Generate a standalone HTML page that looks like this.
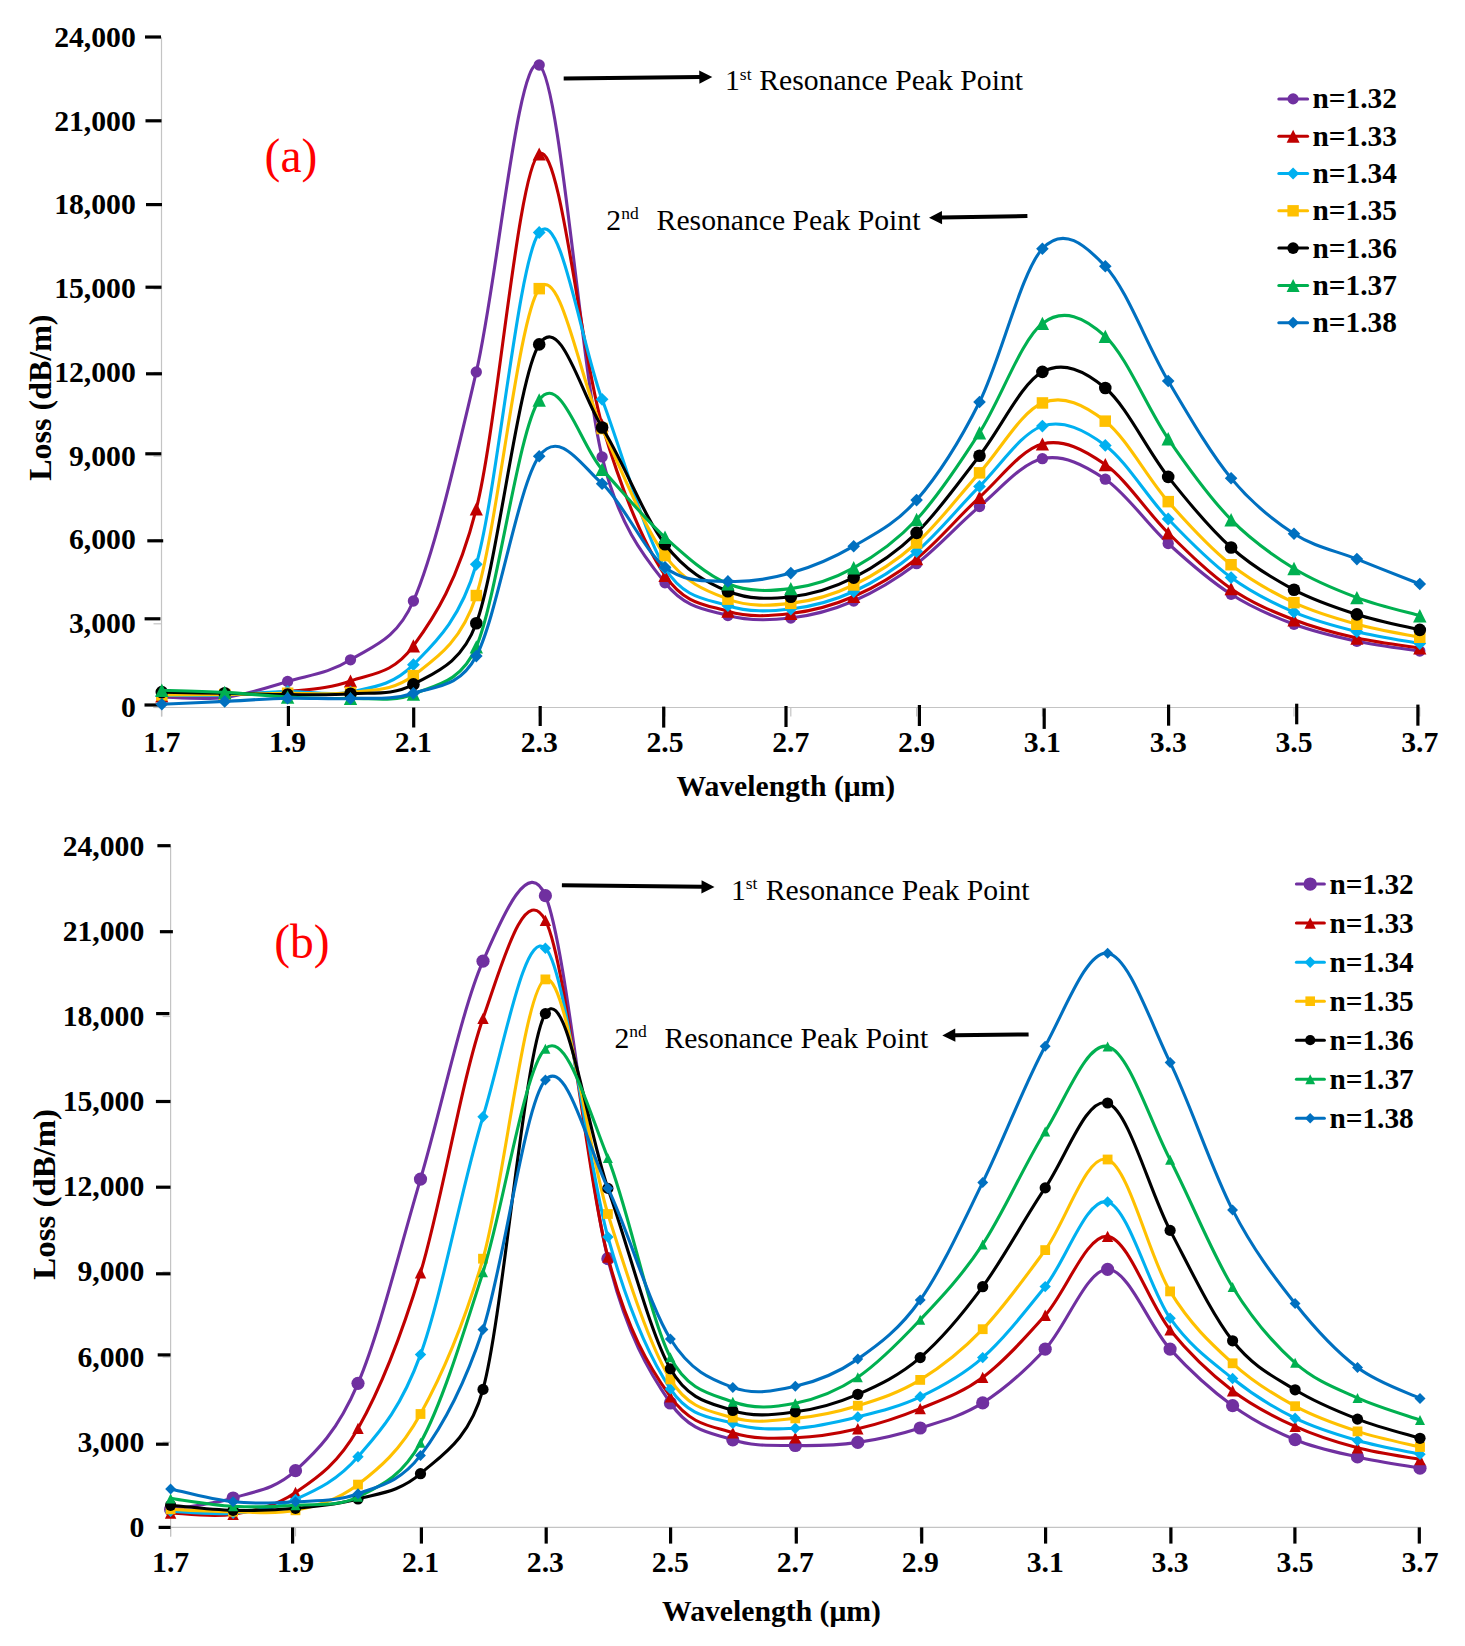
<!DOCTYPE html>
<html lang="en">
<head>
<meta charset="utf-8">
<title>Loss vs Wavelength</title>
<style>
html,body{margin:0;padding:0;background:#fff;}
body{width:1465px;height:1646px;overflow:hidden;}
svg{display:block;font-family:"Liberation Serif","Times New Roman",serif;}
</style>
</head>
<body>
<svg width="1465" height="1646" viewBox="0 0 1465 1646">
<rect width="1465" height="1646" fill="#fff"/>
<line x1="161.5" y1="37.5" x2="161.5" y2="716.5" stroke="#c4c4c4" stroke-width="1.2"/>
<line x1="153.5" y1="707.5" x2="1420.0" y2="707.5" stroke="#c4c4c4" stroke-width="1.2"/>
<line x1="153.5" y1="707.5" x2="161.5" y2="707.5" stroke="#c4c4c4" stroke-width="1.2"/>
<line x1="153.5" y1="623.8" x2="161.5" y2="623.8" stroke="#c4c4c4" stroke-width="1.2"/>
<line x1="153.5" y1="540.0" x2="161.5" y2="540.0" stroke="#c4c4c4" stroke-width="1.2"/>
<line x1="153.5" y1="456.2" x2="161.5" y2="456.2" stroke="#c4c4c4" stroke-width="1.2"/>
<line x1="153.5" y1="372.5" x2="161.5" y2="372.5" stroke="#c4c4c4" stroke-width="1.2"/>
<line x1="153.5" y1="288.8" x2="161.5" y2="288.8" stroke="#c4c4c4" stroke-width="1.2"/>
<line x1="153.5" y1="205.0" x2="161.5" y2="205.0" stroke="#c4c4c4" stroke-width="1.2"/>
<line x1="153.5" y1="121.2" x2="161.5" y2="121.2" stroke="#c4c4c4" stroke-width="1.2"/>
<line x1="153.5" y1="37.5" x2="161.5" y2="37.5" stroke="#c4c4c4" stroke-width="1.2"/>
<line x1="161.8" y1="707.5" x2="161.8" y2="716.5" stroke="#c4c4c4" stroke-width="1.2"/>
<line x1="287.6" y1="707.5" x2="287.6" y2="716.5" stroke="#c4c4c4" stroke-width="1.2"/>
<line x1="413.4" y1="707.5" x2="413.4" y2="716.5" stroke="#c4c4c4" stroke-width="1.2"/>
<line x1="539.2" y1="707.5" x2="539.2" y2="716.5" stroke="#c4c4c4" stroke-width="1.2"/>
<line x1="665.0" y1="707.5" x2="665.0" y2="716.5" stroke="#c4c4c4" stroke-width="1.2"/>
<line x1="790.8" y1="707.5" x2="790.8" y2="716.5" stroke="#c4c4c4" stroke-width="1.2"/>
<line x1="916.6" y1="707.5" x2="916.6" y2="716.5" stroke="#c4c4c4" stroke-width="1.2"/>
<line x1="1042.4" y1="707.5" x2="1042.4" y2="716.5" stroke="#c4c4c4" stroke-width="1.2"/>
<line x1="1168.2" y1="707.5" x2="1168.2" y2="716.5" stroke="#c4c4c4" stroke-width="1.2"/>
<line x1="1294.0" y1="707.5" x2="1294.0" y2="716.5" stroke="#c4c4c4" stroke-width="1.2"/>
<line x1="1419.8" y1="707.5" x2="1419.8" y2="716.5" stroke="#c4c4c4" stroke-width="1.2"/>
<line x1="145.0" y1="37.0" x2="161.0" y2="37.0" stroke="#000" stroke-width="3.2"/>
<line x1="145.5" y1="120.8" x2="161.5" y2="120.8" stroke="#000" stroke-width="3.2"/>
<line x1="146.0" y1="204.6" x2="162.0" y2="204.6" stroke="#000" stroke-width="3.2"/>
<line x1="145.5" y1="287.2" x2="161.5" y2="287.2" stroke="#000" stroke-width="3.2"/>
<line x1="146.0" y1="373.8" x2="162.0" y2="373.8" stroke="#000" stroke-width="3.2"/>
<line x1="145.3" y1="453.8" x2="161.3" y2="453.8" stroke="#000" stroke-width="3.2"/>
<line x1="147.3" y1="540.8" x2="163.2" y2="540.8" stroke="#000" stroke-width="3.2"/>
<line x1="144.6" y1="618.8" x2="160.4" y2="618.8" stroke="#000" stroke-width="3.2"/>
<line x1="144.5" y1="705.0" x2="160.0" y2="705.0" stroke="#000" stroke-width="3.2"/>
<line x1="288.4" y1="706.0" x2="288.4" y2="726.0" stroke="#000" stroke-width="3.2"/>
<line x1="413.7" y1="707.5" x2="413.7" y2="727.5" stroke="#000" stroke-width="3.2"/>
<line x1="540.2" y1="706.0" x2="540.2" y2="726.0" stroke="#000" stroke-width="3.2"/>
<line x1="663.7" y1="706.6" x2="663.7" y2="727.6" stroke="#000" stroke-width="3.2"/>
<line x1="786.0" y1="706.0" x2="786.0" y2="727.0" stroke="#000" stroke-width="3.2"/>
<line x1="919.4" y1="705.0" x2="919.4" y2="726.0" stroke="#000" stroke-width="3.2"/>
<line x1="1044.2" y1="708.3" x2="1044.2" y2="728.9" stroke="#000" stroke-width="3.2"/>
<line x1="1168.6" y1="704.6" x2="1168.6" y2="725.7" stroke="#000" stroke-width="3.2"/>
<line x1="1296.7" y1="703.7" x2="1296.7" y2="724.3" stroke="#000" stroke-width="3.2"/>
<line x1="1417.9" y1="704.6" x2="1417.9" y2="725.7" stroke="#000" stroke-width="3.2"/>
<text x="135.8" y="716.8" font-size="29.70" font-weight="bold" text-anchor="end" fill="#000">0</text>
<text x="135.8" y="633.0" font-size="29.70" font-weight="bold" text-anchor="end" fill="#000">3,000</text>
<text x="135.8" y="549.3" font-size="29.70" font-weight="bold" text-anchor="end" fill="#000">6,000</text>
<text x="135.8" y="465.6" font-size="29.70" font-weight="bold" text-anchor="end" fill="#000">9,000</text>
<text x="135.8" y="381.8" font-size="29.70" font-weight="bold" text-anchor="end" fill="#000">12,000</text>
<text x="135.8" y="298.1" font-size="29.70" font-weight="bold" text-anchor="end" fill="#000">15,000</text>
<text x="135.8" y="214.3" font-size="29.70" font-weight="bold" text-anchor="end" fill="#000">18,000</text>
<text x="135.8" y="130.6" font-size="29.70" font-weight="bold" text-anchor="end" fill="#000">21,000</text>
<text x="135.8" y="46.8" font-size="29.70" font-weight="bold" text-anchor="end" fill="#000">24,000</text>
<text x="161.8" y="751.6" font-size="29.70" font-weight="bold" text-anchor="middle" fill="#000">1.7</text>
<text x="287.6" y="751.6" font-size="29.70" font-weight="bold" text-anchor="middle" fill="#000">1.9</text>
<text x="413.4" y="751.6" font-size="29.70" font-weight="bold" text-anchor="middle" fill="#000">2.1</text>
<text x="539.2" y="751.6" font-size="29.70" font-weight="bold" text-anchor="middle" fill="#000">2.3</text>
<text x="665.0" y="751.6" font-size="29.70" font-weight="bold" text-anchor="middle" fill="#000">2.5</text>
<text x="790.8" y="751.6" font-size="29.70" font-weight="bold" text-anchor="middle" fill="#000">2.7</text>
<text x="916.6" y="751.6" font-size="29.70" font-weight="bold" text-anchor="middle" fill="#000">2.9</text>
<text x="1042.4" y="751.6" font-size="29.70" font-weight="bold" text-anchor="middle" fill="#000">3.1</text>
<text x="1168.2" y="751.6" font-size="29.70" font-weight="bold" text-anchor="middle" fill="#000">3.3</text>
<text x="1294.0" y="751.6" font-size="29.70" font-weight="bold" text-anchor="middle" fill="#000">3.5</text>
<text x="1419.8" y="751.6" font-size="29.70" font-weight="bold" text-anchor="middle" fill="#000">3.7</text>
<text x="785.8" y="795.8" font-size="29.70" font-weight="bold" text-anchor="middle" fill="#000">Wavelength (μm)</text>
<text transform="translate(50.7 397.6) rotate(-90)" font-size="32" font-weight="bold" text-anchor="middle">Loss (dB/m)</text>
<path d="M161.8 697.0C172.3 697.1 203.7 700.0 224.7 697.4C245.7 694.8 266.6 687.8 287.6 681.5C308.6 675.2 329.5 673.2 350.5 659.8C371.5 646.4 396.2 640.5 413.4 601.0C434.4 553.0 455.3 461.2 476.3 371.9C497.3 282.6 518.2 50.8 539.2 65.0C560.2 79.2 581.1 370.6 602.1 456.9C618.7 525.3 644.0 556.4 665.0 582.8C686.0 609.2 706.9 609.6 727.9 615.5C748.9 621.4 769.8 620.4 790.8 618.0C811.8 615.6 832.7 610.0 853.7 601.0C874.7 592.0 895.6 579.5 916.6 563.7C937.6 548.0 958.5 524.0 979.5 506.5C1000.5 489.0 1021.4 463.2 1042.4 458.7C1063.4 454.1 1084.3 465.1 1105.3 479.2C1126.3 493.3 1147.2 524.3 1168.2 543.5C1189.2 562.7 1210.1 580.8 1231.1 594.3C1252.1 607.8 1273.0 616.5 1294.0 624.3C1315.0 632.1 1335.9 636.8 1356.9 641.3C1377.9 645.8 1409.3 649.5 1419.8 651.1" fill="none" stroke="#7030A0" stroke-width="3.1" stroke-linecap="round" stroke-linejoin="round"/>
<g><circle cx="161.8" cy="697.0" r="5.65" fill="#7030A0"/><circle cx="224.7" cy="697.4" r="5.65" fill="#7030A0"/><circle cx="287.6" cy="681.5" r="5.65" fill="#7030A0"/><circle cx="350.5" cy="659.8" r="5.65" fill="#7030A0"/><circle cx="413.4" cy="601.0" r="5.65" fill="#7030A0"/><circle cx="476.3" cy="371.9" r="5.65" fill="#7030A0"/><circle cx="539.2" cy="65.0" r="5.65" fill="#7030A0"/><circle cx="602.1" cy="456.9" r="5.65" fill="#7030A0"/><circle cx="665.0" cy="582.8" r="5.65" fill="#7030A0"/><circle cx="727.9" cy="615.5" r="5.65" fill="#7030A0"/><circle cx="790.8" cy="618.0" r="5.65" fill="#7030A0"/><circle cx="853.7" cy="601.0" r="5.65" fill="#7030A0"/><circle cx="916.6" cy="563.7" r="5.65" fill="#7030A0"/><circle cx="979.5" cy="506.5" r="5.65" fill="#7030A0"/><circle cx="1042.4" cy="458.7" r="5.65" fill="#7030A0"/><circle cx="1105.3" cy="479.2" r="5.65" fill="#7030A0"/><circle cx="1168.2" cy="543.5" r="5.65" fill="#7030A0"/><circle cx="1231.1" cy="594.3" r="5.65" fill="#7030A0"/><circle cx="1294.0" cy="624.3" r="5.65" fill="#7030A0"/><circle cx="1356.9" cy="641.3" r="5.65" fill="#7030A0"/><circle cx="1419.8" cy="651.1" r="5.65" fill="#7030A0"/></g>
<path d="M161.8 695.8C172.3 695.6 203.7 695.1 224.7 694.4C245.7 693.7 266.6 693.7 287.6 691.5C308.6 689.3 329.5 688.6 350.5 681.0C371.5 673.4 392.4 674.6 413.4 645.9C434.4 617.2 457.6 581.9 476.3 508.9C497.3 426.9 518.2 168.0 539.2 154.0C560.2 140.0 581.1 354.8 602.1 425.0C623.1 495.2 644.0 544.3 665.0 575.3C685.3 605.3 706.9 604.8 727.9 611.2C748.9 617.6 769.8 616.0 790.8 613.5C811.8 611.0 832.7 605.6 853.7 596.5C874.7 587.4 895.6 575.2 916.6 558.7C937.6 542.2 958.5 516.4 979.5 497.3C1000.5 478.2 1021.4 449.4 1042.4 444.0C1063.4 438.6 1084.3 449.8 1105.3 464.6C1126.3 479.4 1147.2 512.3 1168.2 533.0C1189.2 553.7 1210.1 574.2 1231.1 588.7C1252.1 603.2 1273.0 611.6 1294.0 619.8C1315.0 628.0 1335.9 633.4 1356.9 638.1C1377.9 642.8 1409.3 646.4 1419.8 648.0" fill="none" stroke="#C00000" stroke-width="3.1" stroke-linecap="round" stroke-linejoin="round"/>
<g><polygon points="161.8,689.2 168.4,702.4 155.2,702.4" fill="#C00000"/><polygon points="224.7,687.8 231.3,701.0 218.1,701.0" fill="#C00000"/><polygon points="287.6,684.9 294.2,698.1 281.0,698.1" fill="#C00000"/><polygon points="350.5,674.4 357.1,687.6 343.9,687.6" fill="#C00000"/><polygon points="413.4,639.3 420.0,652.5 406.8,652.5" fill="#C00000"/><polygon points="476.3,502.3 482.9,515.5 469.7,515.5" fill="#C00000"/><polygon points="539.2,147.4 545.8,160.6 532.6,160.6" fill="#C00000"/><polygon points="602.1,418.4 608.7,431.6 595.5,431.6" fill="#C00000"/><polygon points="665.0,568.7 671.6,581.9 658.4,581.9" fill="#C00000"/><polygon points="727.9,604.6 734.5,617.8 721.3,617.8" fill="#C00000"/><polygon points="790.8,606.9 797.4,620.1 784.2,620.1" fill="#C00000"/><polygon points="853.7,589.9 860.3,603.1 847.1,603.1" fill="#C00000"/><polygon points="916.6,552.1 923.2,565.3 910.0,565.3" fill="#C00000"/><polygon points="979.5,490.7 986.1,503.9 972.9,503.9" fill="#C00000"/><polygon points="1042.4,437.4 1049.0,450.6 1035.8,450.6" fill="#C00000"/><polygon points="1105.3,458.0 1111.9,471.2 1098.7,471.2" fill="#C00000"/><polygon points="1168.2,526.4 1174.8,539.6 1161.6,539.6" fill="#C00000"/><polygon points="1231.1,582.1 1237.7,595.3 1224.5,595.3" fill="#C00000"/><polygon points="1294.0,613.2 1300.6,626.4 1287.4,626.4" fill="#C00000"/><polygon points="1356.9,631.5 1363.5,644.7 1350.3,644.7" fill="#C00000"/><polygon points="1419.8,641.4 1426.4,654.6 1413.2,654.6" fill="#C00000"/></g>
<path d="M161.8 695.5C172.3 695.4 203.7 695.7 224.7 695.0C245.7 694.3 266.6 692.0 287.6 691.5C308.6 691.0 329.5 696.4 350.5 691.9C371.5 687.4 392.4 686.0 413.4 664.7C434.4 643.4 459.7 621.2 476.3 564.3C497.3 492.3 518.2 260.0 539.2 232.5C560.2 205.0 581.1 343.4 602.1 399.3C623.1 455.2 644.0 533.6 665.0 568.0C684.1 599.3 706.9 598.9 727.9 605.7C748.9 612.5 769.8 611.4 790.8 609.0C811.8 606.6 832.7 601.1 853.7 591.5C874.7 581.9 895.6 569.0 916.6 551.5C937.6 534.0 958.5 507.3 979.5 486.4C1000.5 465.5 1021.4 432.9 1042.4 426.1C1063.4 419.3 1084.3 429.9 1105.3 445.4C1126.3 460.9 1147.2 497.0 1168.2 519.0C1189.2 541.0 1210.1 562.1 1231.1 577.6C1252.1 593.1 1273.0 603.2 1294.0 612.2C1315.0 621.2 1335.9 626.5 1356.9 631.7C1377.9 636.9 1409.3 641.5 1419.8 643.5" fill="none" stroke="#00B0F0" stroke-width="3.1" stroke-linecap="round" stroke-linejoin="round"/>
<g><polygon points="161.8,689.1 168.2,695.5 161.8,701.9 155.4,695.5" fill="#00B0F0"/><polygon points="224.7,688.6 231.1,695.0 224.7,701.4 218.3,695.0" fill="#00B0F0"/><polygon points="287.6,685.1 294.0,691.5 287.6,697.9 281.2,691.5" fill="#00B0F0"/><polygon points="350.5,685.5 356.9,691.9 350.5,698.3 344.1,691.9" fill="#00B0F0"/><polygon points="413.4,658.3 419.8,664.7 413.4,671.1 407.0,664.7" fill="#00B0F0"/><polygon points="476.3,557.9 482.7,564.3 476.3,570.7 469.9,564.3" fill="#00B0F0"/><polygon points="539.2,226.1 545.6,232.5 539.2,238.9 532.8,232.5" fill="#00B0F0"/><polygon points="602.1,392.9 608.5,399.3 602.1,405.7 595.7,399.3" fill="#00B0F0"/><polygon points="665.0,561.6 671.4,568.0 665.0,574.4 658.6,568.0" fill="#00B0F0"/><polygon points="727.9,599.3 734.3,605.7 727.9,612.1 721.5,605.7" fill="#00B0F0"/><polygon points="790.8,602.6 797.2,609.0 790.8,615.4 784.4,609.0" fill="#00B0F0"/><polygon points="853.7,585.1 860.1,591.5 853.7,597.9 847.3,591.5" fill="#00B0F0"/><polygon points="916.6,545.1 923.0,551.5 916.6,557.9 910.2,551.5" fill="#00B0F0"/><polygon points="979.5,480.0 985.9,486.4 979.5,492.8 973.1,486.4" fill="#00B0F0"/><polygon points="1042.4,419.7 1048.8,426.1 1042.4,432.5 1036.0,426.1" fill="#00B0F0"/><polygon points="1105.3,439.0 1111.7,445.4 1105.3,451.8 1098.9,445.4" fill="#00B0F0"/><polygon points="1168.2,512.6 1174.6,519.0 1168.2,525.4 1161.8,519.0" fill="#00B0F0"/><polygon points="1231.1,571.2 1237.5,577.6 1231.1,584.0 1224.7,577.6" fill="#00B0F0"/><polygon points="1294.0,605.8 1300.4,612.2 1294.0,618.6 1287.6,612.2" fill="#00B0F0"/><polygon points="1356.9,625.3 1363.3,631.7 1356.9,638.1 1350.5,631.7" fill="#00B0F0"/><polygon points="1419.8,637.1 1426.2,643.5 1419.8,649.9 1413.4,643.5" fill="#00B0F0"/></g>
<path d="M161.8 695.0C172.3 694.9 203.7 694.8 224.7 694.5C245.7 694.2 266.6 693.6 287.6 693.3C308.6 693.0 329.5 695.5 350.5 692.5C371.5 689.5 392.4 691.8 413.4 675.6C434.4 659.4 460.6 643.9 476.3 595.5C497.3 531.0 518.2 316.5 539.2 288.7C560.2 260.9 581.1 384.0 602.1 428.5C623.1 473.0 644.0 527.2 665.0 555.6C686.0 584.0 706.9 591.1 727.9 599.1C748.9 607.1 769.8 605.8 790.8 603.4C811.8 601.0 832.7 595.1 853.7 585.0C874.7 574.9 895.6 561.7 916.6 543.0C937.6 524.3 958.5 496.2 979.5 472.9C1000.5 449.6 1021.4 411.6 1042.4 403.0C1063.4 394.4 1084.3 404.8 1105.3 421.2C1126.3 437.6 1147.2 477.7 1168.2 501.6C1189.2 525.5 1210.1 548.0 1231.1 564.8C1252.1 581.6 1273.0 592.7 1294.0 602.6C1315.0 612.5 1335.9 618.4 1356.9 624.2C1377.9 630.0 1409.3 635.1 1419.8 637.3" fill="none" stroke="#FFC000" stroke-width="3.1" stroke-linecap="round" stroke-linejoin="round"/>
<g><rect x="156.1" y="689.2" width="11.5" height="11.5" fill="#FFC000"/><rect x="219.0" y="688.8" width="11.5" height="11.5" fill="#FFC000"/><rect x="281.9" y="687.5" width="11.5" height="11.5" fill="#FFC000"/><rect x="344.8" y="686.8" width="11.5" height="11.5" fill="#FFC000"/><rect x="407.6" y="669.9" width="11.5" height="11.5" fill="#FFC000"/><rect x="470.6" y="589.8" width="11.5" height="11.5" fill="#FFC000"/><rect x="533.5" y="282.9" width="11.5" height="11.5" fill="#FFC000"/><rect x="596.4" y="422.8" width="11.5" height="11.5" fill="#FFC000"/><rect x="659.2" y="549.9" width="11.5" height="11.5" fill="#FFC000"/><rect x="722.2" y="593.4" width="11.5" height="11.5" fill="#FFC000"/><rect x="785.0" y="597.6" width="11.5" height="11.5" fill="#FFC000"/><rect x="848.0" y="579.2" width="11.5" height="11.5" fill="#FFC000"/><rect x="910.8" y="537.2" width="11.5" height="11.5" fill="#FFC000"/><rect x="973.8" y="467.1" width="11.5" height="11.5" fill="#FFC000"/><rect x="1036.7" y="397.2" width="11.5" height="11.5" fill="#FFC000"/><rect x="1099.5" y="415.4" width="11.5" height="11.5" fill="#FFC000"/><rect x="1162.5" y="495.9" width="11.5" height="11.5" fill="#FFC000"/><rect x="1225.3" y="559.0" width="11.5" height="11.5" fill="#FFC000"/><rect x="1288.2" y="596.9" width="11.5" height="11.5" fill="#FFC000"/><rect x="1351.1" y="618.5" width="11.5" height="11.5" fill="#FFC000"/><rect x="1414.0" y="631.5" width="11.5" height="11.5" fill="#FFC000"/></g>
<path d="M161.8 692.1C172.3 692.3 203.7 692.9 224.7 693.3C245.7 693.7 266.6 694.5 287.6 694.6C308.6 694.7 329.5 695.5 350.5 693.8C371.5 692.1 392.4 696.1 413.4 684.4C434.4 672.6 461.1 664.4 476.3 623.3C497.3 566.6 518.2 377.0 539.2 344.4C560.2 311.8 581.1 394.2 602.1 427.5C623.1 460.8 644.0 516.9 665.0 544.2C686.0 571.5 706.9 582.5 727.9 591.3C748.9 600.0 769.8 599.0 790.8 596.7C811.8 594.4 832.7 588.2 853.7 577.6C874.7 567.0 895.6 553.2 916.6 532.9C937.6 512.6 958.5 482.5 979.5 455.7C1000.5 428.9 1021.4 383.2 1042.4 371.9C1063.4 360.6 1084.3 370.5 1105.3 388.0C1126.3 405.5 1147.2 450.3 1168.2 476.9C1189.2 503.5 1210.1 528.7 1231.1 547.5C1252.1 566.3 1273.0 578.6 1294.0 589.8C1315.0 600.9 1335.9 607.7 1356.9 614.4C1377.9 621.1 1409.3 627.3 1419.8 629.9" fill="none" stroke="#000000" stroke-width="3.1" stroke-linecap="round" stroke-linejoin="round"/>
<g><circle cx="161.8" cy="692.1" r="6.30" fill="#000000"/><circle cx="224.7" cy="693.3" r="6.30" fill="#000000"/><circle cx="287.6" cy="694.6" r="6.30" fill="#000000"/><circle cx="350.5" cy="693.8" r="6.30" fill="#000000"/><circle cx="413.4" cy="684.4" r="6.30" fill="#000000"/><circle cx="476.3" cy="623.3" r="6.30" fill="#000000"/><circle cx="539.2" cy="344.4" r="6.30" fill="#000000"/><circle cx="602.1" cy="427.5" r="6.30" fill="#000000"/><circle cx="665.0" cy="544.2" r="6.30" fill="#000000"/><circle cx="727.9" cy="591.3" r="6.30" fill="#000000"/><circle cx="790.8" cy="596.7" r="6.30" fill="#000000"/><circle cx="853.7" cy="577.6" r="6.30" fill="#000000"/><circle cx="916.6" cy="532.9" r="6.30" fill="#000000"/><circle cx="979.5" cy="455.7" r="6.30" fill="#000000"/><circle cx="1042.4" cy="371.9" r="6.30" fill="#000000"/><circle cx="1105.3" cy="388.0" r="6.30" fill="#000000"/><circle cx="1168.2" cy="476.9" r="6.30" fill="#000000"/><circle cx="1231.1" cy="547.5" r="6.30" fill="#000000"/><circle cx="1294.0" cy="589.8" r="6.30" fill="#000000"/><circle cx="1356.9" cy="614.4" r="6.30" fill="#000000"/><circle cx="1419.8" cy="629.9" r="6.30" fill="#000000"/></g>
<path d="M161.8 690.3C172.3 690.6 203.7 691.3 224.7 692.4C245.7 693.5 266.6 696.0 287.6 697.0C308.6 698.0 329.5 698.9 350.5 698.4C371.5 697.9 392.4 702.6 413.4 694.0C434.4 685.4 460.8 683.0 476.3 646.9C497.3 597.9 518.2 429.6 539.2 400.0C560.2 370.4 581.1 446.5 602.1 469.4C623.1 492.3 644.0 518.2 665.0 537.3C686.0 556.3 706.9 575.2 727.9 583.7C748.9 592.2 769.8 591.2 790.8 588.6C811.8 586.0 832.7 579.3 853.7 567.8C874.7 556.3 895.6 542.0 916.6 519.5C937.6 497.0 958.5 465.4 979.5 432.7C1000.5 400.0 1021.4 339.4 1042.4 323.4C1063.4 307.3 1084.3 317.2 1105.3 336.4C1126.3 355.6 1147.2 408.2 1168.2 438.8C1189.2 469.4 1210.1 498.1 1231.1 519.7C1252.1 541.3 1273.0 555.5 1294.0 568.5C1315.0 581.5 1335.9 589.7 1356.9 597.6C1377.9 605.5 1409.3 612.7 1419.8 615.7" fill="none" stroke="#00B050" stroke-width="3.1" stroke-linecap="round" stroke-linejoin="round"/>
<g><polygon points="161.8,683.6 168.5,697.0 155.1,697.0" fill="#00B050"/><polygon points="224.7,685.7 231.4,699.1 218.0,699.1" fill="#00B050"/><polygon points="287.6,690.3 294.3,703.7 280.9,703.7" fill="#00B050"/><polygon points="350.5,691.7 357.2,705.1 343.8,705.1" fill="#00B050"/><polygon points="413.4,687.3 420.1,700.7 406.7,700.7" fill="#00B050"/><polygon points="476.3,640.2 483.0,653.6 469.6,653.6" fill="#00B050"/><polygon points="539.2,393.3 545.9,406.7 532.5,406.7" fill="#00B050"/><polygon points="602.1,462.7 608.8,476.1 595.4,476.1" fill="#00B050"/><polygon points="665.0,530.6 671.7,544.0 658.3,544.0" fill="#00B050"/><polygon points="727.9,577.0 734.6,590.4 721.2,590.4" fill="#00B050"/><polygon points="790.8,581.9 797.5,595.3 784.1,595.3" fill="#00B050"/><polygon points="853.7,561.1 860.4,574.5 847.0,574.5" fill="#00B050"/><polygon points="916.6,512.8 923.3,526.2 909.9,526.2" fill="#00B050"/><polygon points="979.5,426.0 986.2,439.4 972.8,439.4" fill="#00B050"/><polygon points="1042.4,316.7 1049.1,330.1 1035.7,330.1" fill="#00B050"/><polygon points="1105.3,329.7 1112.0,343.1 1098.6,343.1" fill="#00B050"/><polygon points="1168.2,432.1 1174.9,445.5 1161.5,445.5" fill="#00B050"/><polygon points="1231.1,513.0 1237.8,526.4 1224.4,526.4" fill="#00B050"/><polygon points="1294.0,561.8 1300.7,575.2 1287.3,575.2" fill="#00B050"/><polygon points="1356.9,590.9 1363.6,604.3 1350.2,604.3" fill="#00B050"/><polygon points="1419.8,609.0 1426.5,622.4 1413.1,622.4" fill="#00B050"/></g>
<path d="M161.8 704.2C172.3 703.7 203.7 702.4 224.7 701.4C245.7 700.4 266.6 698.7 287.6 698.2C308.6 697.7 329.5 699.3 350.5 698.5C371.5 697.7 392.4 700.3 413.4 693.2C434.4 686.1 459.2 688.4 476.3 656.1C497.3 616.6 518.2 484.9 539.2 456.2C559.4 428.5 581.1 465.2 602.1 483.7C623.1 502.2 644.0 550.9 665.0 567.2C686.0 583.5 706.9 580.4 727.9 581.4C748.9 582.4 769.8 579.0 790.8 573.1C811.8 567.2 832.7 558.4 853.7 546.2C874.7 534.0 895.6 524.1 916.6 500.1C937.6 476.1 958.5 443.9 979.5 402.0C1000.5 360.1 1021.4 271.3 1042.4 248.7C1063.4 226.1 1084.3 244.1 1105.3 266.2C1126.3 288.2 1147.2 345.7 1168.2 381.0C1189.2 416.3 1210.1 452.8 1231.1 478.2C1252.1 503.6 1273.0 520.2 1294.0 533.7C1315.0 547.2 1335.9 550.7 1356.9 559.1C1377.9 567.5 1409.3 579.9 1419.8 584.0" fill="none" stroke="#0070C0" stroke-width="3.1" stroke-linecap="round" stroke-linejoin="round"/>
<g><polygon points="161.8,697.9 168.1,704.2 161.8,710.5 155.5,704.2" fill="#0070C0"/><polygon points="224.7,695.1 231.0,701.4 224.7,707.7 218.4,701.4" fill="#0070C0"/><polygon points="287.6,691.9 293.9,698.2 287.6,704.5 281.3,698.2" fill="#0070C0"/><polygon points="350.5,692.2 356.8,698.5 350.5,704.8 344.2,698.5" fill="#0070C0"/><polygon points="413.4,686.9 419.7,693.2 413.4,699.5 407.1,693.2" fill="#0070C0"/><polygon points="476.3,649.8 482.6,656.1 476.3,662.4 470.0,656.1" fill="#0070C0"/><polygon points="539.2,449.9 545.5,456.2 539.2,462.5 532.9,456.2" fill="#0070C0"/><polygon points="602.1,477.4 608.4,483.7 602.1,490.0 595.8,483.7" fill="#0070C0"/><polygon points="665.0,560.9 671.3,567.2 665.0,573.5 658.7,567.2" fill="#0070C0"/><polygon points="727.9,575.1 734.2,581.4 727.9,587.7 721.6,581.4" fill="#0070C0"/><polygon points="790.8,566.8 797.1,573.1 790.8,579.4 784.5,573.1" fill="#0070C0"/><polygon points="853.7,539.9 860.0,546.2 853.7,552.5 847.4,546.2" fill="#0070C0"/><polygon points="916.6,493.8 922.9,500.1 916.6,506.4 910.3,500.1" fill="#0070C0"/><polygon points="979.5,395.7 985.8,402.0 979.5,408.3 973.2,402.0" fill="#0070C0"/><polygon points="1042.4,242.4 1048.7,248.7 1042.4,255.0 1036.1,248.7" fill="#0070C0"/><polygon points="1105.3,259.9 1111.6,266.2 1105.3,272.5 1099.0,266.2" fill="#0070C0"/><polygon points="1168.2,374.7 1174.5,381.0 1168.2,387.3 1161.9,381.0" fill="#0070C0"/><polygon points="1231.1,471.9 1237.4,478.2 1231.1,484.5 1224.8,478.2" fill="#0070C0"/><polygon points="1294.0,527.4 1300.3,533.7 1294.0,540.0 1287.7,533.7" fill="#0070C0"/><polygon points="1356.9,552.8 1363.2,559.1 1356.9,565.4 1350.6,559.1" fill="#0070C0"/><polygon points="1419.8,577.7 1426.1,584.0 1419.8,590.3 1413.5,584.0" fill="#0070C0"/></g>
<line x1="1278.8" y1="98.9" x2="1307.6" y2="98.9" stroke="#7030A0" stroke-width="3.0" stroke-linecap="round"/>
<circle cx="1293.1" cy="98.9" r="5.60" fill="#7030A0"/>
<text x="1312.5" y="108.4" font-size="29.35" font-weight="bold" text-anchor="start" fill="#000">n=1.32</text>
<line x1="1278.8" y1="136.2" x2="1307.6" y2="136.2" stroke="#C00000" stroke-width="3.0" stroke-linecap="round"/>
<polygon points="1293.1,129.7 1299.6,142.7 1286.6,142.7" fill="#C00000"/>
<text x="1312.5" y="145.7" font-size="29.35" font-weight="bold" text-anchor="start" fill="#000">n=1.33</text>
<line x1="1278.8" y1="173.5" x2="1307.6" y2="173.5" stroke="#00B0F0" stroke-width="3.0" stroke-linecap="round"/>
<polygon points="1293.1,167.4 1299.2,173.5 1293.1,179.6 1287.0,173.5" fill="#00B0F0"/>
<text x="1312.5" y="183.0" font-size="29.35" font-weight="bold" text-anchor="start" fill="#000">n=1.34</text>
<line x1="1278.8" y1="210.8" x2="1307.6" y2="210.8" stroke="#FFC000" stroke-width="3.0" stroke-linecap="round"/>
<rect x="1287.4" y="205.1" width="11.4" height="11.4" fill="#FFC000"/>
<text x="1312.5" y="220.3" font-size="29.35" font-weight="bold" text-anchor="start" fill="#000">n=1.35</text>
<line x1="1278.8" y1="248.1" x2="1307.6" y2="248.1" stroke="#000000" stroke-width="3.0" stroke-linecap="round"/>
<circle cx="1293.1" cy="248.1" r="5.80" fill="#000000"/>
<text x="1312.5" y="257.6" font-size="29.35" font-weight="bold" text-anchor="start" fill="#000">n=1.36</text>
<line x1="1278.8" y1="285.4" x2="1307.6" y2="285.4" stroke="#00B050" stroke-width="3.0" stroke-linecap="round"/>
<polygon points="1293.1,278.9 1299.6,291.9 1286.6,291.9" fill="#00B050"/>
<text x="1312.5" y="294.9" font-size="29.35" font-weight="bold" text-anchor="start" fill="#000">n=1.37</text>
<line x1="1278.8" y1="322.7" x2="1307.6" y2="322.7" stroke="#0070C0" stroke-width="3.0" stroke-linecap="round"/>
<polygon points="1293.1,316.8 1299.0,322.7 1293.1,328.6 1287.2,322.7" fill="#0070C0"/>
<text x="1312.5" y="332.2" font-size="29.35" font-weight="bold" text-anchor="start" fill="#000">n=1.38</text>
<text x="264.6" y="172.4" font-size="47.50" font-weight="normal" text-anchor="start" fill="#FF0000">(a)</text>
<line x1="563.7" y1="78.4" x2="700.3" y2="77.1" stroke="#000" stroke-width="4.0"/>
<polygon points="712.3,77.0 699.4,83.7 699.2,70.5" fill="#000"/>
<text x="725" y="90.2" font-size="29.70"><tspan>1</tspan><tspan font-size="17.5" dy="-10.5">st</tspan><tspan x="759.2" dy="10.5">Resonance Peak Point</tspan></text>
<line x1="1027.4" y1="216.0" x2="941.0" y2="217.6" stroke="#000" stroke-width="4.0"/>
<polygon points="929.0,217.8 941.9,211.0 942.1,224.2" fill="#000"/>
<text x="606.3" y="229.6" font-size="29.70"><tspan>2</tspan><tspan font-size="17.5" dy="-10.5">nd</tspan><tspan x="656.6" dy="10.5">Resonance Peak Point</tspan></text>
<line x1="170.6" y1="846.2" x2="170.6" y2="1536.5" stroke="#c4c4c4" stroke-width="1.2"/>
<line x1="162.6" y1="1527.4" x2="1421.0" y2="1527.4" stroke="#c4c4c4" stroke-width="1.2"/>
<line x1="162.6" y1="1527.4" x2="170.6" y2="1527.4" stroke="#c4c4c4" stroke-width="1.2"/>
<line x1="162.6" y1="1442.2" x2="170.6" y2="1442.2" stroke="#c4c4c4" stroke-width="1.2"/>
<line x1="162.6" y1="1357.1" x2="170.6" y2="1357.1" stroke="#c4c4c4" stroke-width="1.2"/>
<line x1="162.6" y1="1272.0" x2="170.6" y2="1272.0" stroke="#c4c4c4" stroke-width="1.2"/>
<line x1="162.6" y1="1186.8" x2="170.6" y2="1186.8" stroke="#c4c4c4" stroke-width="1.2"/>
<line x1="162.6" y1="1101.7" x2="170.6" y2="1101.7" stroke="#c4c4c4" stroke-width="1.2"/>
<line x1="162.6" y1="1016.5" x2="170.6" y2="1016.5" stroke="#c4c4c4" stroke-width="1.2"/>
<line x1="162.6" y1="931.4" x2="170.6" y2="931.4" stroke="#c4c4c4" stroke-width="1.2"/>
<line x1="162.6" y1="846.2" x2="170.6" y2="846.2" stroke="#c4c4c4" stroke-width="1.2"/>
<line x1="170.6" y1="1527.4" x2="170.6" y2="1536.4" stroke="#c4c4c4" stroke-width="1.2"/>
<line x1="295.5" y1="1527.4" x2="295.5" y2="1536.4" stroke="#c4c4c4" stroke-width="1.2"/>
<line x1="420.5" y1="1527.4" x2="420.5" y2="1536.4" stroke="#c4c4c4" stroke-width="1.2"/>
<line x1="545.4" y1="1527.4" x2="545.4" y2="1536.4" stroke="#c4c4c4" stroke-width="1.2"/>
<line x1="670.4" y1="1527.4" x2="670.4" y2="1536.4" stroke="#c4c4c4" stroke-width="1.2"/>
<line x1="795.3" y1="1527.4" x2="795.3" y2="1536.4" stroke="#c4c4c4" stroke-width="1.2"/>
<line x1="920.2" y1="1527.4" x2="920.2" y2="1536.4" stroke="#c4c4c4" stroke-width="1.2"/>
<line x1="1045.2" y1="1527.4" x2="1045.2" y2="1536.4" stroke="#c4c4c4" stroke-width="1.2"/>
<line x1="1170.1" y1="1527.4" x2="1170.1" y2="1536.4" stroke="#c4c4c4" stroke-width="1.2"/>
<line x1="1295.1" y1="1527.4" x2="1295.1" y2="1536.4" stroke="#c4c4c4" stroke-width="1.2"/>
<line x1="1420.0" y1="1527.4" x2="1420.0" y2="1536.4" stroke="#c4c4c4" stroke-width="1.2"/>
<line x1="157.4" y1="845.7" x2="170.6" y2="845.7" stroke="#000" stroke-width="3.2"/>
<line x1="159.9" y1="931.7" x2="172.9" y2="931.7" stroke="#000" stroke-width="3.2"/>
<line x1="156.1" y1="1013.6" x2="169.4" y2="1013.6" stroke="#000" stroke-width="3.2"/>
<line x1="155.9" y1="1101.5" x2="170.5" y2="1101.5" stroke="#000" stroke-width="3.2"/>
<line x1="156.0" y1="1187.2" x2="170.5" y2="1187.2" stroke="#000" stroke-width="3.2"/>
<line x1="156.0" y1="1273.8" x2="170.5" y2="1273.8" stroke="#000" stroke-width="3.2"/>
<line x1="157.7" y1="1354.9" x2="170.5" y2="1354.9" stroke="#000" stroke-width="3.2"/>
<line x1="156.0" y1="1444.2" x2="168.6" y2="1444.2" stroke="#000" stroke-width="3.2"/>
<line x1="158.6" y1="1527.4" x2="170.6" y2="1527.4" stroke="#000" stroke-width="3.2"/>
<line x1="292.6" y1="1527.4" x2="292.6" y2="1543.6" stroke="#000" stroke-width="3.2"/>
<line x1="421.4" y1="1527.4" x2="421.4" y2="1543.6" stroke="#000" stroke-width="3.2"/>
<line x1="546.2" y1="1527.4" x2="546.2" y2="1543.6" stroke="#000" stroke-width="3.2"/>
<line x1="670.6" y1="1527.4" x2="670.6" y2="1543.6" stroke="#000" stroke-width="3.2"/>
<line x1="796.3" y1="1527.4" x2="796.3" y2="1543.6" stroke="#000" stroke-width="3.2"/>
<line x1="921.7" y1="1527.4" x2="921.7" y2="1543.6" stroke="#000" stroke-width="3.2"/>
<line x1="1045.6" y1="1527.4" x2="1045.6" y2="1543.6" stroke="#000" stroke-width="3.2"/>
<line x1="1170.9" y1="1527.4" x2="1170.9" y2="1543.6" stroke="#000" stroke-width="3.2"/>
<line x1="1294.9" y1="1527.4" x2="1294.9" y2="1543.6" stroke="#000" stroke-width="3.2"/>
<line x1="1419.3" y1="1527.4" x2="1419.3" y2="1543.6" stroke="#000" stroke-width="3.2"/>
<text x="144.3" y="1536.8" font-size="29.70" font-weight="bold" text-anchor="end" fill="#000">0</text>
<text x="144.3" y="1451.7" font-size="29.70" font-weight="bold" text-anchor="end" fill="#000">3,000</text>
<text x="144.3" y="1366.5" font-size="29.70" font-weight="bold" text-anchor="end" fill="#000">6,000</text>
<text x="144.3" y="1281.4" font-size="29.70" font-weight="bold" text-anchor="end" fill="#000">9,000</text>
<text x="144.3" y="1196.2" font-size="29.70" font-weight="bold" text-anchor="end" fill="#000">12,000</text>
<text x="144.3" y="1111.1" font-size="29.70" font-weight="bold" text-anchor="end" fill="#000">15,000</text>
<text x="144.3" y="1025.9" font-size="29.70" font-weight="bold" text-anchor="end" fill="#000">18,000</text>
<text x="144.3" y="940.8" font-size="29.70" font-weight="bold" text-anchor="end" fill="#000">21,000</text>
<text x="144.3" y="855.6" font-size="29.70" font-weight="bold" text-anchor="end" fill="#000">24,000</text>
<text x="170.6" y="1571.8" font-size="29.70" font-weight="bold" text-anchor="middle" fill="#000">1.7</text>
<text x="295.5" y="1571.8" font-size="29.70" font-weight="bold" text-anchor="middle" fill="#000">1.9</text>
<text x="420.5" y="1571.8" font-size="29.70" font-weight="bold" text-anchor="middle" fill="#000">2.1</text>
<text x="545.4" y="1571.8" font-size="29.70" font-weight="bold" text-anchor="middle" fill="#000">2.3</text>
<text x="670.4" y="1571.8" font-size="29.70" font-weight="bold" text-anchor="middle" fill="#000">2.5</text>
<text x="795.3" y="1571.8" font-size="29.70" font-weight="bold" text-anchor="middle" fill="#000">2.7</text>
<text x="920.2" y="1571.8" font-size="29.70" font-weight="bold" text-anchor="middle" fill="#000">2.9</text>
<text x="1045.2" y="1571.8" font-size="29.70" font-weight="bold" text-anchor="middle" fill="#000">3.1</text>
<text x="1170.1" y="1571.8" font-size="29.70" font-weight="bold" text-anchor="middle" fill="#000">3.3</text>
<text x="1295.1" y="1571.8" font-size="29.70" font-weight="bold" text-anchor="middle" fill="#000">3.5</text>
<text x="1420.0" y="1571.8" font-size="29.70" font-weight="bold" text-anchor="middle" fill="#000">3.7</text>
<text x="771.5" y="1620.7" font-size="29.70" font-weight="bold" text-anchor="middle" fill="#000">Wavelength (μm)</text>
<text transform="translate(55.2 1194.3) rotate(-90) scale(1.027 1)" font-size="32" font-weight="bold" text-anchor="middle">Loss (dB/m)</text>
<path d="M170.6 1509.5C181.0 1507.6 212.2 1504.5 233.1 1498.0C253.9 1491.5 274.7 1489.8 295.5 1470.7C316.4 1451.6 337.2 1431.9 358.0 1383.3C378.8 1334.7 399.7 1249.4 420.5 1179.1C441.3 1108.8 462.1 1008.4 483.0 961.2C501.2 919.8 527.9 854.0 545.4 895.7C566.2 945.3 587.1 1174.2 607.9 1258.7C626.7 1335.0 649.5 1372.8 670.4 1403.0C690.9 1432.8 712.0 1432.7 732.8 1439.8C753.7 1446.9 774.5 1445.1 795.3 1445.5C816.1 1445.9 836.9 1445.3 857.8 1442.4C878.6 1439.5 899.4 1434.6 920.2 1428.0C941.1 1421.4 961.9 1416.0 982.7 1402.9C1003.5 1389.8 1024.4 1371.5 1045.2 1349.2C1066.0 1326.9 1086.8 1269.3 1107.6 1269.3C1128.5 1269.3 1149.3 1326.4 1170.1 1349.1C1190.9 1371.8 1211.8 1390.6 1232.6 1405.7C1253.4 1420.8 1274.2 1431.2 1295.1 1439.7C1315.9 1448.2 1336.7 1452.2 1357.5 1456.9C1378.4 1461.7 1409.6 1466.3 1420.0 1468.2" fill="none" stroke="#7030A0" stroke-width="3.1" stroke-linecap="round" stroke-linejoin="round"/>
<g><circle cx="170.6" cy="1509.5" r="6.60" fill="#7030A0"/><circle cx="233.1" cy="1498.0" r="6.60" fill="#7030A0"/><circle cx="295.5" cy="1470.7" r="6.60" fill="#7030A0"/><circle cx="358.0" cy="1383.3" r="6.60" fill="#7030A0"/><circle cx="420.5" cy="1179.1" r="6.60" fill="#7030A0"/><circle cx="483.0" cy="961.2" r="6.60" fill="#7030A0"/><circle cx="545.4" cy="895.7" r="6.60" fill="#7030A0"/><circle cx="607.9" cy="1258.7" r="6.60" fill="#7030A0"/><circle cx="670.4" cy="1403.0" r="6.60" fill="#7030A0"/><circle cx="732.8" cy="1439.8" r="6.60" fill="#7030A0"/><circle cx="795.3" cy="1445.5" r="6.60" fill="#7030A0"/><circle cx="857.8" cy="1442.4" r="6.60" fill="#7030A0"/><circle cx="920.2" cy="1428.0" r="6.60" fill="#7030A0"/><circle cx="982.7" cy="1402.9" r="6.60" fill="#7030A0"/><circle cx="1045.2" cy="1349.2" r="6.60" fill="#7030A0"/><circle cx="1107.6" cy="1269.3" r="6.60" fill="#7030A0"/><circle cx="1170.1" cy="1349.1" r="6.60" fill="#7030A0"/><circle cx="1232.6" cy="1405.7" r="6.60" fill="#7030A0"/><circle cx="1295.1" cy="1439.7" r="6.60" fill="#7030A0"/><circle cx="1357.5" cy="1456.9" r="6.60" fill="#7030A0"/><circle cx="1420.0" cy="1468.2" r="6.60" fill="#7030A0"/></g>
<path d="M170.6 1513.0C181.0 1513.2 212.2 1517.6 233.1 1514.2C253.9 1510.8 274.7 1506.8 295.5 1492.5C316.4 1478.2 337.2 1465.0 358.0 1428.4C378.8 1391.8 399.7 1341.0 420.5 1272.7C441.3 1204.4 462.1 1077.1 483.0 1018.4C502.4 963.6 524.6 880.6 545.4 920.4C566.2 960.2 587.1 1177.6 607.9 1257.0C627.3 1331.0 649.5 1367.4 670.4 1396.7C691.2 1426.0 712.0 1425.9 732.8 1432.7C753.7 1439.5 774.5 1438.5 795.3 1437.8C816.1 1437.1 836.9 1433.7 857.8 1428.8C878.6 1423.9 899.4 1417.2 920.2 1408.6C941.1 1400.0 961.9 1393.0 982.7 1377.4C1003.5 1361.9 1024.4 1338.8 1045.2 1315.3C1066.0 1291.8 1086.8 1234.0 1107.6 1236.4C1128.5 1238.8 1149.3 1304.2 1170.1 1329.9C1190.9 1355.6 1211.8 1374.6 1232.6 1390.7C1253.4 1406.8 1274.2 1416.9 1295.1 1426.4C1315.9 1435.9 1336.7 1442.3 1357.5 1447.8C1378.4 1453.3 1409.6 1457.5 1420.0 1459.5" fill="none" stroke="#C00000" stroke-width="3.1" stroke-linecap="round" stroke-linejoin="round"/>
<g><polygon points="170.6,1507.3 176.3,1518.7 164.9,1518.7" fill="#C00000"/><polygon points="233.1,1508.5 238.8,1519.9 227.4,1519.9" fill="#C00000"/><polygon points="295.5,1486.8 301.2,1498.2 289.8,1498.2" fill="#C00000"/><polygon points="358.0,1422.7 363.7,1434.1 352.3,1434.1" fill="#C00000"/><polygon points="420.5,1267.0 426.2,1278.4 414.8,1278.4" fill="#C00000"/><polygon points="483.0,1012.7 488.7,1024.1 477.3,1024.1" fill="#C00000"/><polygon points="545.4,914.7 551.1,926.1 539.7,926.1" fill="#C00000"/><polygon points="607.9,1251.3 613.6,1262.7 602.2,1262.7" fill="#C00000"/><polygon points="670.4,1391.0 676.1,1402.4 664.7,1402.4" fill="#C00000"/><polygon points="732.8,1427.0 738.5,1438.4 727.1,1438.4" fill="#C00000"/><polygon points="795.3,1432.1 801.0,1443.5 789.6,1443.5" fill="#C00000"/><polygon points="857.8,1423.1 863.5,1434.5 852.1,1434.5" fill="#C00000"/><polygon points="920.2,1402.9 925.9,1414.3 914.5,1414.3" fill="#C00000"/><polygon points="982.7,1371.7 988.4,1383.1 977.0,1383.1" fill="#C00000"/><polygon points="1045.2,1309.6 1050.9,1321.0 1039.5,1321.0" fill="#C00000"/><polygon points="1107.6,1230.7 1113.3,1242.1 1101.9,1242.1" fill="#C00000"/><polygon points="1170.1,1324.2 1175.8,1335.6 1164.4,1335.6" fill="#C00000"/><polygon points="1232.6,1385.0 1238.3,1396.4 1226.9,1396.4" fill="#C00000"/><polygon points="1295.1,1420.7 1300.8,1432.1 1289.4,1432.1" fill="#C00000"/><polygon points="1357.5,1442.1 1363.2,1453.5 1351.8,1453.5" fill="#C00000"/><polygon points="1420.0,1453.8 1425.7,1465.2 1414.3,1465.2" fill="#C00000"/></g>
<path d="M170.6 1511.3C181.0 1511.6 212.2 1515.2 233.1 1513.2C253.9 1511.2 274.7 1508.8 295.5 1499.4C316.4 1490.0 337.2 1480.9 358.0 1456.8C378.8 1432.7 399.8 1410.8 420.5 1354.6C441.3 1297.9 462.1 1184.4 483.0 1116.7C503.8 1049.0 524.6 928.2 545.4 948.2C566.2 968.2 587.1 1163.5 607.9 1237.0C628.7 1310.5 649.5 1357.8 670.4 1388.9C690.2 1418.5 712.0 1416.9 732.8 1423.4C753.7 1430.0 774.5 1429.3 795.3 1428.2C816.1 1427.1 836.9 1422.1 857.8 1416.9C878.6 1411.7 899.4 1406.7 920.2 1396.8C941.1 1386.9 961.9 1376.0 982.7 1357.6C1003.5 1339.2 1024.4 1312.5 1045.2 1286.6C1066.0 1260.6 1086.8 1196.6 1107.6 1201.9C1128.5 1207.2 1149.3 1288.8 1170.1 1318.2C1190.9 1347.6 1211.8 1361.8 1232.6 1378.5C1253.4 1395.2 1274.2 1407.9 1295.1 1418.2C1315.9 1428.5 1336.7 1434.6 1357.5 1440.6C1378.4 1446.6 1409.6 1452.0 1420.0 1454.3" fill="none" stroke="#00B0F0" stroke-width="3.1" stroke-linecap="round" stroke-linejoin="round"/>
<g><polygon points="170.6,1505.6 176.3,1511.3 170.6,1517.0 164.9,1511.3" fill="#00B0F0"/><polygon points="233.1,1507.5 238.8,1513.2 233.1,1518.9 227.4,1513.2" fill="#00B0F0"/><polygon points="295.5,1493.7 301.2,1499.4 295.5,1505.1 289.8,1499.4" fill="#00B0F0"/><polygon points="358.0,1451.1 363.7,1456.8 358.0,1462.5 352.3,1456.8" fill="#00B0F0"/><polygon points="420.5,1348.9 426.2,1354.6 420.5,1360.3 414.8,1354.6" fill="#00B0F0"/><polygon points="483.0,1111.0 488.7,1116.7 483.0,1122.4 477.3,1116.7" fill="#00B0F0"/><polygon points="545.4,942.5 551.1,948.2 545.4,953.9 539.7,948.2" fill="#00B0F0"/><polygon points="607.9,1231.3 613.6,1237.0 607.9,1242.7 602.2,1237.0" fill="#00B0F0"/><polygon points="670.4,1383.2 676.1,1388.9 670.4,1394.6 664.7,1388.9" fill="#00B0F0"/><polygon points="732.8,1417.7 738.5,1423.4 732.8,1429.1 727.1,1423.4" fill="#00B0F0"/><polygon points="795.3,1422.5 801.0,1428.2 795.3,1433.9 789.6,1428.2" fill="#00B0F0"/><polygon points="857.8,1411.2 863.5,1416.9 857.8,1422.6 852.1,1416.9" fill="#00B0F0"/><polygon points="920.2,1391.1 925.9,1396.8 920.2,1402.5 914.5,1396.8" fill="#00B0F0"/><polygon points="982.7,1351.9 988.4,1357.6 982.7,1363.3 977.0,1357.6" fill="#00B0F0"/><polygon points="1045.2,1280.9 1050.9,1286.6 1045.2,1292.3 1039.5,1286.6" fill="#00B0F0"/><polygon points="1107.6,1196.2 1113.3,1201.9 1107.6,1207.6 1101.9,1201.9" fill="#00B0F0"/><polygon points="1170.1,1312.5 1175.8,1318.2 1170.1,1323.9 1164.4,1318.2" fill="#00B0F0"/><polygon points="1232.6,1372.8 1238.3,1378.5 1232.6,1384.2 1226.9,1378.5" fill="#00B0F0"/><polygon points="1295.1,1412.5 1300.8,1418.2 1295.1,1423.9 1289.4,1418.2" fill="#00B0F0"/><polygon points="1357.5,1434.9 1363.2,1440.6 1357.5,1446.3 1351.8,1440.6" fill="#00B0F0"/><polygon points="1420.0,1448.6 1425.7,1454.3 1420.0,1460.0 1414.3,1454.3" fill="#00B0F0"/></g>
<path d="M170.6 1509.3C181.0 1509.7 212.2 1511.5 233.1 1511.7C253.9 1511.9 274.7 1514.8 295.5 1510.3C316.4 1505.8 337.2 1500.6 358.0 1484.6C378.8 1468.5 399.7 1451.7 420.5 1414.0C441.3 1376.3 462.1 1331.1 483.0 1258.7C503.8 1186.3 524.6 986.9 545.4 979.4C566.2 971.9 587.1 1147.3 607.9 1214.0C628.7 1280.7 649.5 1345.5 670.4 1379.4C689.5 1410.6 712.0 1411.1 732.8 1417.6C753.7 1424.1 774.5 1420.4 795.3 1418.4C816.1 1416.4 836.9 1412.1 857.8 1405.7C878.6 1399.3 899.4 1392.7 920.2 1379.9C941.1 1367.2 961.9 1350.8 982.7 1329.2C1003.5 1307.6 1024.4 1278.4 1045.2 1250.1C1066.0 1221.8 1086.8 1152.6 1107.6 1159.5C1128.5 1166.4 1149.3 1257.4 1170.1 1291.4C1190.9 1325.4 1211.8 1344.2 1232.6 1363.3C1253.4 1382.4 1274.2 1394.8 1295.1 1406.2C1315.9 1417.6 1336.7 1424.6 1357.5 1431.4C1378.4 1438.2 1409.6 1444.4 1420.0 1447.0" fill="none" stroke="#FFC000" stroke-width="3.1" stroke-linecap="round" stroke-linejoin="round"/>
<g><rect x="165.7" y="1504.4" width="9.8" height="9.8" fill="#FFC000"/><rect x="228.2" y="1506.8" width="9.8" height="9.8" fill="#FFC000"/><rect x="290.6" y="1505.4" width="9.8" height="9.8" fill="#FFC000"/><rect x="353.1" y="1479.7" width="9.8" height="9.8" fill="#FFC000"/><rect x="415.6" y="1409.1" width="9.8" height="9.8" fill="#FFC000"/><rect x="478.1" y="1253.8" width="9.8" height="9.8" fill="#FFC000"/><rect x="540.5" y="974.5" width="9.8" height="9.8" fill="#FFC000"/><rect x="603.0" y="1209.1" width="9.8" height="9.8" fill="#FFC000"/><rect x="665.5" y="1374.5" width="9.8" height="9.8" fill="#FFC000"/><rect x="727.9" y="1412.7" width="9.8" height="9.8" fill="#FFC000"/><rect x="790.4" y="1413.5" width="9.8" height="9.8" fill="#FFC000"/><rect x="852.9" y="1400.8" width="9.8" height="9.8" fill="#FFC000"/><rect x="915.3" y="1375.0" width="9.8" height="9.8" fill="#FFC000"/><rect x="977.8" y="1324.3" width="9.8" height="9.8" fill="#FFC000"/><rect x="1040.3" y="1245.2" width="9.8" height="9.8" fill="#FFC000"/><rect x="1102.7" y="1154.6" width="9.8" height="9.8" fill="#FFC000"/><rect x="1165.2" y="1286.5" width="9.8" height="9.8" fill="#FFC000"/><rect x="1227.7" y="1358.4" width="9.8" height="9.8" fill="#FFC000"/><rect x="1290.2" y="1401.3" width="9.8" height="9.8" fill="#FFC000"/><rect x="1352.6" y="1426.5" width="9.8" height="9.8" fill="#FFC000"/><rect x="1415.1" y="1442.1" width="9.8" height="9.8" fill="#FFC000"/></g>
<path d="M170.6 1505.3C181.0 1506.1 212.2 1509.8 233.1 1510.3C253.9 1510.8 274.7 1510.2 295.5 1508.3C316.4 1506.4 337.2 1504.8 358.0 1499.0C378.8 1493.2 399.7 1492.0 420.5 1473.7C441.3 1455.4 469.2 1440.0 483.0 1389.4C503.8 1312.7 524.6 1047.1 545.4 1013.6C566.2 980.1 587.1 1129.2 607.9 1188.4C628.7 1247.6 649.5 1331.8 670.4 1368.8C688.8 1401.5 712.0 1403.3 732.8 1410.5C753.7 1417.7 774.5 1414.5 795.3 1411.8C816.1 1409.1 836.9 1403.3 857.8 1394.3C878.6 1385.3 899.4 1375.5 920.2 1357.6C941.1 1339.7 961.9 1315.0 982.7 1286.7C1003.5 1258.4 1024.4 1218.5 1045.2 1187.9C1066.0 1157.3 1086.8 1095.9 1107.6 1103.0C1128.5 1110.1 1149.3 1190.8 1170.1 1230.4C1190.9 1270.0 1211.8 1314.2 1232.6 1340.8C1253.4 1367.4 1274.2 1376.8 1295.1 1389.8C1315.9 1402.8 1336.7 1411.0 1357.5 1419.1C1378.4 1427.2 1409.6 1435.1 1420.0 1438.3" fill="none" stroke="#000000" stroke-width="3.1" stroke-linecap="round" stroke-linejoin="round"/>
<g><circle cx="170.6" cy="1505.3" r="5.60" fill="#000000"/><circle cx="233.1" cy="1510.3" r="5.60" fill="#000000"/><circle cx="295.5" cy="1508.3" r="5.60" fill="#000000"/><circle cx="358.0" cy="1499.0" r="5.60" fill="#000000"/><circle cx="420.5" cy="1473.7" r="5.60" fill="#000000"/><circle cx="483.0" cy="1389.4" r="5.60" fill="#000000"/><circle cx="545.4" cy="1013.6" r="5.60" fill="#000000"/><circle cx="607.9" cy="1188.4" r="5.60" fill="#000000"/><circle cx="670.4" cy="1368.8" r="5.60" fill="#000000"/><circle cx="732.8" cy="1410.5" r="5.60" fill="#000000"/><circle cx="795.3" cy="1411.8" r="5.60" fill="#000000"/><circle cx="857.8" cy="1394.3" r="5.60" fill="#000000"/><circle cx="920.2" cy="1357.6" r="5.60" fill="#000000"/><circle cx="982.7" cy="1286.7" r="5.60" fill="#000000"/><circle cx="1045.2" cy="1187.9" r="5.60" fill="#000000"/><circle cx="1107.6" cy="1103.0" r="5.60" fill="#000000"/><circle cx="1170.1" cy="1230.4" r="5.60" fill="#000000"/><circle cx="1232.6" cy="1340.8" r="5.60" fill="#000000"/><circle cx="1295.1" cy="1389.8" r="5.60" fill="#000000"/><circle cx="1357.5" cy="1419.1" r="5.60" fill="#000000"/><circle cx="1420.0" cy="1438.3" r="5.60" fill="#000000"/></g>
<path d="M170.6 1498.4C181.0 1499.7 212.2 1505.2 233.1 1506.3C253.9 1507.4 274.7 1506.9 295.5 1505.3C316.4 1503.7 337.2 1507.2 358.0 1496.8C378.8 1486.4 400.4 1478.8 420.5 1442.7C441.3 1405.3 462.1 1337.9 483.0 1272.2C503.8 1206.5 524.6 1067.8 545.4 1048.7C566.2 1029.7 587.1 1106.5 607.9 1157.9C628.7 1209.3 649.5 1316.7 670.4 1357.3C687.8 1391.4 712.0 1394.1 732.8 1401.8C753.7 1409.5 774.5 1407.3 795.3 1403.2C816.1 1399.1 836.9 1391.1 857.8 1377.2C878.6 1363.3 899.4 1341.9 920.2 1319.8C941.1 1297.7 961.9 1275.8 982.7 1244.4C1003.5 1213.0 1024.4 1164.5 1045.2 1131.5C1066.0 1098.5 1086.8 1041.7 1107.6 1046.4C1128.5 1051.1 1149.3 1119.6 1170.1 1159.7C1190.9 1199.8 1211.8 1253.2 1232.6 1287.0C1253.4 1320.8 1274.2 1344.3 1295.1 1362.8C1315.9 1381.3 1336.7 1388.4 1357.5 1397.9C1378.4 1407.4 1409.6 1416.3 1420.0 1420.0" fill="none" stroke="#00B050" stroke-width="3.1" stroke-linecap="round" stroke-linejoin="round"/>
<g><polygon points="170.6,1493.4 175.6,1503.4 165.6,1503.4" fill="#00B050"/><polygon points="233.1,1501.3 238.1,1511.3 228.1,1511.3" fill="#00B050"/><polygon points="295.5,1500.3 300.5,1510.3 290.5,1510.3" fill="#00B050"/><polygon points="358.0,1491.8 363.0,1501.8 353.0,1501.8" fill="#00B050"/><polygon points="420.5,1437.7 425.5,1447.7 415.5,1447.7" fill="#00B050"/><polygon points="483.0,1267.2 488.0,1277.2 478.0,1277.2" fill="#00B050"/><polygon points="545.4,1043.7 550.4,1053.7 540.4,1053.7" fill="#00B050"/><polygon points="607.9,1152.9 612.9,1162.9 602.9,1162.9" fill="#00B050"/><polygon points="670.4,1352.3 675.4,1362.3 665.4,1362.3" fill="#00B050"/><polygon points="732.8,1396.8 737.8,1406.8 727.8,1406.8" fill="#00B050"/><polygon points="795.3,1398.2 800.3,1408.2 790.3,1408.2" fill="#00B050"/><polygon points="857.8,1372.2 862.8,1382.2 852.8,1382.2" fill="#00B050"/><polygon points="920.2,1314.8 925.2,1324.8 915.2,1324.8" fill="#00B050"/><polygon points="982.7,1239.4 987.7,1249.4 977.7,1249.4" fill="#00B050"/><polygon points="1045.2,1126.5 1050.2,1136.5 1040.2,1136.5" fill="#00B050"/><polygon points="1107.6,1041.4 1112.6,1051.4 1102.6,1051.4" fill="#00B050"/><polygon points="1170.1,1154.7 1175.1,1164.7 1165.1,1164.7" fill="#00B050"/><polygon points="1232.6,1282.0 1237.6,1292.0 1227.6,1292.0" fill="#00B050"/><polygon points="1295.1,1357.8 1300.1,1367.8 1290.1,1367.8" fill="#00B050"/><polygon points="1357.5,1392.9 1362.5,1402.9 1352.5,1402.9" fill="#00B050"/><polygon points="1420.0,1415.0 1425.0,1425.0 1415.0,1425.0" fill="#00B050"/></g>
<path d="M170.6 1488.9C181.0 1491.1 212.2 1499.7 233.1 1501.8C253.9 1503.9 274.7 1503.1 295.5 1501.8C316.4 1500.5 337.2 1501.4 358.0 1493.7C378.8 1486.0 399.7 1482.8 420.5 1455.4C441.3 1428.0 462.1 1392.0 483.0 1329.4C503.8 1266.8 524.6 1103.5 545.4 1080.0C566.2 1056.5 587.1 1145.0 607.9 1188.2C628.7 1231.4 649.5 1305.8 670.4 1339.0C691.2 1372.2 712.0 1379.5 732.8 1387.4C753.7 1395.3 774.5 1391.0 795.3 1386.3C816.1 1381.6 836.9 1373.5 857.8 1359.1C878.6 1344.7 899.4 1329.5 920.2 1300.0C941.1 1270.5 961.9 1224.7 982.7 1182.4C1003.5 1140.1 1024.4 1084.4 1045.2 1046.2C1066.0 1008.0 1086.8 950.5 1107.6 953.2C1128.5 955.9 1149.3 1019.6 1170.1 1062.4C1190.9 1105.2 1211.8 1169.7 1232.6 1209.9C1253.4 1250.1 1274.2 1277.2 1295.1 1303.5C1315.9 1329.8 1336.7 1351.8 1357.5 1367.6C1378.4 1383.4 1409.6 1393.3 1420.0 1398.4" fill="none" stroke="#0070C0" stroke-width="3.1" stroke-linecap="round" stroke-linejoin="round"/>
<g><polygon points="170.6,1483.5 176.0,1488.9 170.6,1494.4 165.2,1488.9" fill="#0070C0"/><polygon points="233.1,1496.3 238.5,1501.8 233.1,1507.2 227.6,1501.8" fill="#0070C0"/><polygon points="295.5,1496.3 301.0,1501.8 295.5,1507.2 290.1,1501.8" fill="#0070C0"/><polygon points="358.0,1488.2 363.5,1493.7 358.0,1499.2 352.6,1493.7" fill="#0070C0"/><polygon points="420.5,1450.0 425.9,1455.4 420.5,1460.9 415.0,1455.4" fill="#0070C0"/><polygon points="483.0,1324.0 488.4,1329.4 483.0,1334.9 477.5,1329.4" fill="#0070C0"/><polygon points="545.4,1074.5 550.9,1080.0 545.4,1085.5 540.0,1080.0" fill="#0070C0"/><polygon points="607.9,1182.8 613.3,1188.2 607.9,1193.7 602.4,1188.2" fill="#0070C0"/><polygon points="670.4,1333.5 675.8,1339.0 670.4,1344.5 664.9,1339.0" fill="#0070C0"/><polygon points="732.8,1382.0 738.3,1387.4 732.8,1392.9 727.4,1387.4" fill="#0070C0"/><polygon points="795.3,1380.8 800.8,1386.3 795.3,1391.8 789.9,1386.3" fill="#0070C0"/><polygon points="857.8,1353.6 863.2,1359.1 857.8,1364.5 852.3,1359.1" fill="#0070C0"/><polygon points="920.2,1294.5 925.7,1300.0 920.2,1305.5 914.8,1300.0" fill="#0070C0"/><polygon points="982.7,1177.0 988.2,1182.4 982.7,1187.9 977.3,1182.4" fill="#0070C0"/><polygon points="1045.2,1040.8 1050.6,1046.2 1045.2,1051.7 1039.7,1046.2" fill="#0070C0"/><polygon points="1107.6,947.8 1113.1,953.2 1107.6,958.7 1102.2,953.2" fill="#0070C0"/><polygon points="1170.1,1057.0 1175.6,1062.4 1170.1,1067.9 1164.7,1062.4" fill="#0070C0"/><polygon points="1232.6,1204.5 1238.0,1209.9 1232.6,1215.4 1227.1,1209.9" fill="#0070C0"/><polygon points="1295.1,1298.0 1300.5,1303.5 1295.1,1309.0 1289.6,1303.5" fill="#0070C0"/><polygon points="1357.5,1362.1 1363.0,1367.6 1357.5,1373.0 1352.1,1367.6" fill="#0070C0"/><polygon points="1420.0,1393.0 1425.5,1398.4 1420.0,1403.9 1414.5,1398.4" fill="#0070C0"/></g>
<line x1="1296.4" y1="884.1" x2="1324.4" y2="884.1" stroke="#7030A0" stroke-width="3.0" stroke-linecap="round"/>
<circle cx="1310.2" cy="884.1" r="6.70" fill="#7030A0"/>
<text x="1329.4" y="893.7" font-size="29.35" font-weight="bold" text-anchor="start" fill="#000">n=1.32</text>
<line x1="1296.4" y1="923.1" x2="1324.4" y2="923.1" stroke="#C00000" stroke-width="3.0" stroke-linecap="round"/>
<polygon points="1310.2,917.4 1315.9,928.8 1304.5,928.8" fill="#C00000"/>
<text x="1329.4" y="932.7" font-size="29.35" font-weight="bold" text-anchor="start" fill="#000">n=1.33</text>
<line x1="1296.4" y1="962.2" x2="1324.4" y2="962.2" stroke="#00B0F0" stroke-width="3.0" stroke-linecap="round"/>
<polygon points="1310.2,956.5 1315.9,962.2 1310.2,967.9 1304.5,962.2" fill="#00B0F0"/>
<text x="1329.4" y="971.8" font-size="29.35" font-weight="bold" text-anchor="start" fill="#000">n=1.34</text>
<line x1="1296.4" y1="1001.2" x2="1324.4" y2="1001.2" stroke="#FFC000" stroke-width="3.0" stroke-linecap="round"/>
<rect x="1305.4" y="996.4" width="9.6" height="9.6" fill="#FFC000"/>
<text x="1329.4" y="1010.8" font-size="29.35" font-weight="bold" text-anchor="start" fill="#000">n=1.35</text>
<line x1="1296.4" y1="1040.2" x2="1324.4" y2="1040.2" stroke="#000000" stroke-width="3.0" stroke-linecap="round"/>
<circle cx="1310.2" cy="1040.2" r="5.10" fill="#000000"/>
<text x="1329.4" y="1049.8" font-size="29.35" font-weight="bold" text-anchor="start" fill="#000">n=1.36</text>
<line x1="1296.4" y1="1079.2" x2="1324.4" y2="1079.2" stroke="#00B050" stroke-width="3.0" stroke-linecap="round"/>
<polygon points="1310.2,1074.3 1315.1,1084.2 1305.3,1084.2" fill="#00B050"/>
<text x="1329.4" y="1088.8" font-size="29.35" font-weight="bold" text-anchor="start" fill="#000">n=1.37</text>
<line x1="1296.4" y1="1118.3" x2="1324.4" y2="1118.3" stroke="#0070C0" stroke-width="3.0" stroke-linecap="round"/>
<polygon points="1310.2,1113.1 1315.4,1118.3 1310.2,1123.5 1305.0,1118.3" fill="#0070C0"/>
<text x="1329.4" y="1127.9" font-size="29.35" font-weight="bold" text-anchor="start" fill="#000">n=1.38</text>
<text x="274.2" y="958.1" font-size="47.50" font-weight="normal" text-anchor="start" fill="#FF0000">(b)</text>
<line x1="561.9" y1="885.2" x2="702.5" y2="886.8" stroke="#000" stroke-width="4.0"/>
<polygon points="714.5,886.9 701.4,893.4 701.6,880.2" fill="#000"/>
<text x="730.9" y="899.5" font-size="29.70"><tspan>1</tspan><tspan font-size="17.5" dy="-10.5">st</tspan><tspan x="765.7" dy="10.5">Resonance Peak Point</tspan></text>
<line x1="1028.6" y1="1034.4" x2="954.3" y2="1035.3" stroke="#000" stroke-width="4.0"/>
<polygon points="942.3,1035.4 955.2,1028.6 955.4,1041.8" fill="#000"/>
<text x="614.5" y="1047.7" font-size="29.70"><tspan>2</tspan><tspan font-size="17.5" dy="-10.5">nd</tspan><tspan x="664.4" dy="10.5">Resonance Peak Point</tspan></text>
</svg>
</body>
</html>
